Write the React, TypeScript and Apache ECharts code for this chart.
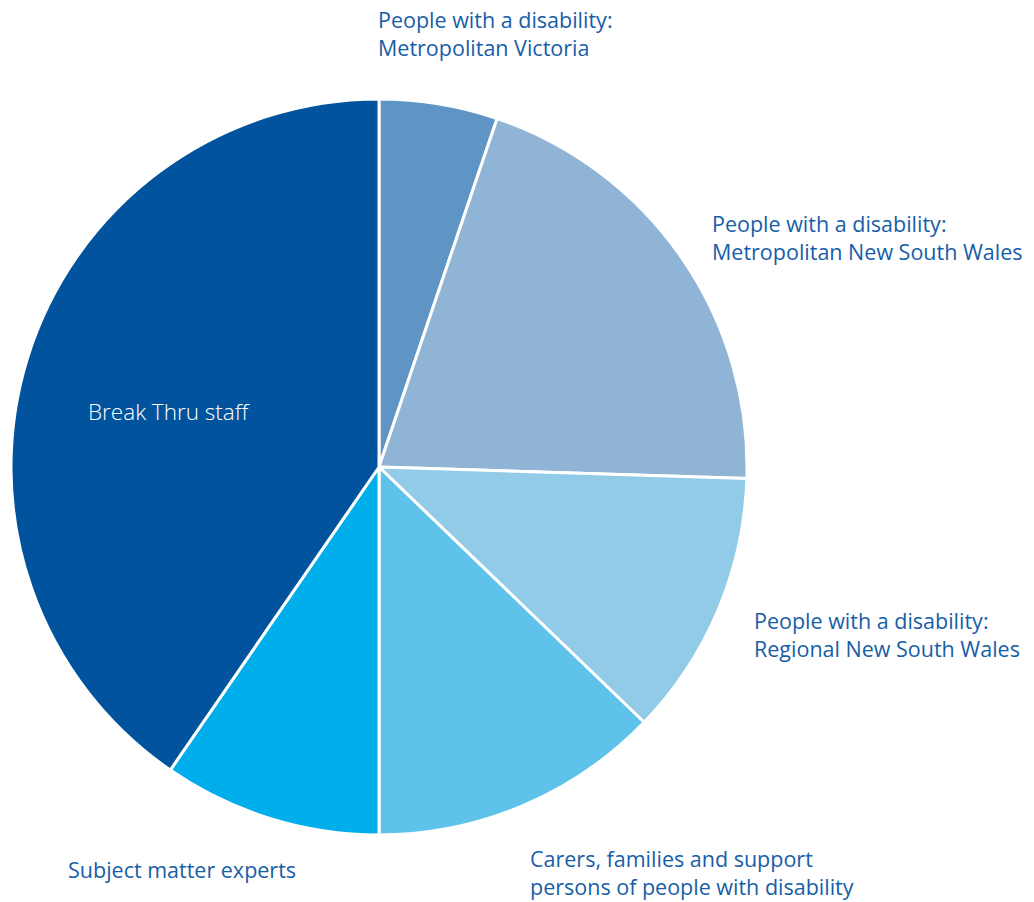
import React, { useEffect, useRef } from "react";
import * as echarts from "echarts";

const categories = [
  "People with a disability:\nMetropolitan Victoria",
  "People with a disability:\nMetropolitan New South Wales",
  "People with a disability:\nRegional New South Wales",
  "Carers, families and support\npersons of people with disability",
  "Subject matter experts",
  "Break Thru staff",
];
const values = [5.2, 20.3, 11.7, 12.8, 9.6, 40.4];
const colors = ["#5f95c4", "#8fb4d6", "#91cbe8", "#5fc2ea", "#00aeeb", "#00539c"];

// label anchor positions (left-aligned, vertically centred)
const labelPos: [number, number][] = [
  [378, 33],
  [712, 237],
  [754, 634],
  [530, 872],
  [68, 869],
  [88, 411],
];

export default function App() {
  const ref = useRef<HTMLDivElement>(null);
  useEffect(() => {
    if (!ref.current) return;
    const chart = echarts.init(ref.current, null, { renderer: "svg" });
    chart.setOption({
      animation: false,
      backgroundColor: "#ffffff",
      series: [
        {
          type: "pie",
          center: [379, 467],
          radius: [0, 368],
          startAngle: 90,
          clockwise: true,
          avoidLabelOverlap: false,
          itemStyle: { borderColor: "#ffffff", borderWidth: 3 },
          label: {
            show: true,
            position: "outside",
            formatter: "{b}",
            color: "#175ea8",
            fontFamily: "Open Sans",
            fontSize: 21.5,
            lineHeight: 28,
          },
          labelLine: { show: false },
          labelLayout: (params: any) => {
            const p = labelPos[params.dataIndex];
            return { x: p[0], y: p[1], align: "left", verticalAlign: "middle" };
          },
          emphasis: { disabled: true },
          data: categories.map((name, i) => ({
            name,
            value: values[i],
            itemStyle: { color: colors[i] },
            label:
              i === 5
                ? { color: "#ffffff", fontWeight: 300, fontSize: 22.5 }
                : undefined,
          })),
        },
      ],
    });
    return () => chart.dispose();
  }, []);
  return (
    <div
      ref={ref}
      style={{ position: "fixed", left: 0, top: 0, width: 1034, height: 902 }}
    />
  );
}
